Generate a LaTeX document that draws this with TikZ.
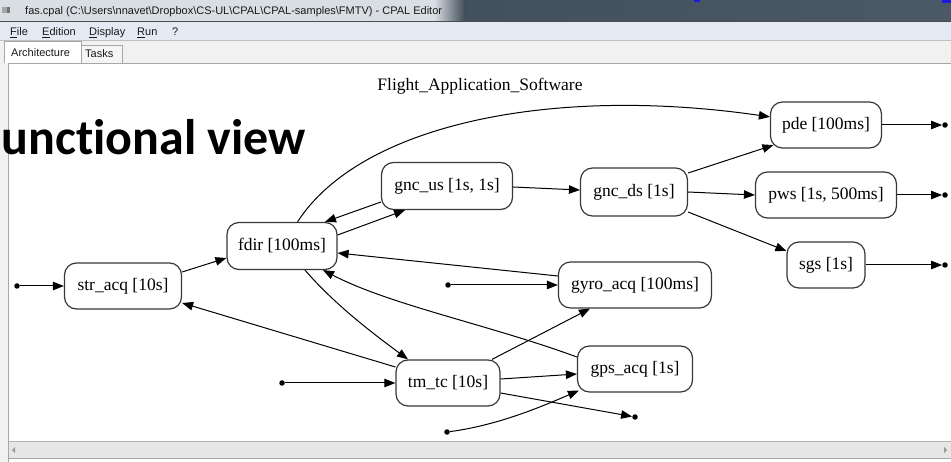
\documentclass[tikz,border=0pt]{standalone}
\usepackage{fontspec}
\setmainfont{Liberation Serif}
\newfontfamily\uifont{Liberation Sans}
\newfontfamily\slidefont[Ligatures={NoCommon}]{Carlito}
\usetikzlibrary{arrows.meta,calc}

\definecolor{barDark}{HTML}{3B4753}
\definecolor{barDarkR}{HTML}{4B5967}
\definecolor{barGlow}{HTML}{D9DEE3}
\definecolor{menuBg}{HTML}{E4EAF3}
\definecolor{stripBg}{HTML}{F1F1F1}
\definecolor{frameLine}{HTML}{A7A7A7}
\definecolor{scrollBg}{HTML}{E6E6E6}
\definecolor{slideBlue}{HTML}{1A1AE6}

\begin{document}
\begin{tikzpicture}[x=1pt,y=-1pt,
  task/.style={draw=black!78, line width=1.2pt, rounded corners=12pt, fill=white,
    minimum height=46pt, inner sep=0pt, font=\fontsize{17.5}{20}\selectfont},
  flow/.style={-{Triangle[length=11pt,width=8.5pt]}, line width=1pt},
  port/.style={circle, fill=black, inner sep=0pt, minimum size=5.5pt},
  ui/.style={font=\uifont\fontsize{11}{13}\selectfont, text=black!90, inner sep=0pt, anchor=base west},
]
\useasboundingbox (0,0) rectangle (951,462);
\fill[white] (0,0) rectangle (951,462);

% ---- window title bar ----
\shade[left color=barDark, right color=barDarkR] (0,0) rectangle (951,21);
\fill[barGlow] (0,0) rectangle (434,21);
\shade[left color=barGlow, right color=barDark] (434,0) rectangle (466,21);
\fill[slideBlue] (694,0) rectangle (700,2);
\fill[slideBlue] (942,0) rectangle (951,3);
\fill[black!35] (2,7) rectangle (7,13);
\fill[black!55] (7,7) rectangle (10,13);
\node[ui] (wintitle) at (25,15) {fas.cpal (C:\textbackslash Users\textbackslash nnavet\textbackslash Dropbox\textbackslash CS-UL\textbackslash CPAL\textbackslash CPAL-samples\textbackslash FMTV) - CPAL Editor};
\draw[black!70, line width=1pt] (0,21.5) -- (951,21.5);

% ---- menu bar ----
\fill[menuBg] (0,22) rectangle (951,40);
\draw[black!25] (0,40.5) -- (951,40.5);
\node[ui] (mFile) at (10,36) {\underline{F}ile};
\node[ui] (mEdit) at (42,36) {\underline{E}dition};
\node[ui] (mDisp) at (89,36) {\underline{D}isplay};
\node[ui] (mRun)  at (137,36) {\underline{R}un};
\node[ui] (mHelp) at (172,36) {?};

% ---- tab strip ----
\fill[stripBg] (0,41) rectangle (951,63);
\fill[white!96!black, draw=frameLine] (81,45) rectangle (122,63);
\fill[white, draw=frameLine] (4,41.5) rectangle (81,63);
\node[ui] (tabArch) at (11,57) {Architecture};
\node[ui] (tabTasks) at (85,58) {Tasks};

% ---- drawing panel and scroll bar ----
\fill[stripBg] (0,63) rectangle (8,462);
\fill[white] (8,63.5) rectangle (951,441);
\draw[frameLine] (8,462) -- (8,63.5) -- (951,63.5);
\fill[scrollBg] (8.5,442) rectangle (951,458);
\draw[black!30] (8.5,441.5) -- (951,441.5);
\draw[black!35] (8.5,458.5) -- (951,458.5);
\fill[black!40] (12,450) -- (15,447) -- (15,453) -- cycle;
\fill[black!40] (947,450) -- (944,447) -- (944,453) -- cycle;

% ---- slide heading ----
\node[font=\slidefont\bfseries\fontsize{50}{56}\selectfont, inner sep=0pt, anchor=base east] (heading) at (306,155) {unctional view};

% ---- graph ----
\node[font=\fontsize{17.5}{20}\selectfont, inner sep=0pt] (gtitle) at (480,86) {Flight\_Application\_Software};

\node[task, minimum width=117pt] (str)   at (123,286) {str\_acq [10s]};
\node[task, minimum width=110pt, minimum height=47pt] (fdir)  at (282,246) {fdir [100ms]};
\node[task, minimum width=131pt, minimum height=47pt] (gncus) at (447,186) {gnc\_us [1s, 1s]};
\node[task, minimum width=107pt, minimum height=48pt] (gncds) at (634,192) {gnc\_ds [1s]};
\node[task, minimum width=111pt] (pde)   at (826,125) {pde [100ms]};
\node[task, minimum width=141pt] (pws)   at (826,195) {pws [1s, 500ms]};
\node[task, minimum width=78pt]  (sgs)   at (826,265) {sgs [1s]};
\node[task, minimum width=153pt] (gyro)  at (635,285) {gyro\_acq [100ms]};
\node[task, minimum width=104pt] (tmtc)  at (448,383) {tm\_tc [10s]};
\node[task, minimum width=115pt] (gps)   at (635,369) {gps\_acq [1s]};

% free ends
\node[port] (strIn)  at (17,286) {};
\node[port] (gyroIn) at (448,285) {};
\node[port] (tmIn)   at (282,383) {};
\node[port] (gpsIn)  at (447,432) {};
\node[port] (tmOut)  at (635,417) {};
\node[port] (pdeOut) at (945,125) {};
\node[port] (pwsOut) at (945,195) {};
\node[port] (sgsOut) at (945,265) {};

% connectors
\draw[flow] (strIn) -- (str);
\draw[flow] ($(str.east)+(0,-14)$) -- ($(fdir.west)+(0,12)$);
\draw[flow] ($(fdir.east)+(0,-11)$) -- ($(gncus.south)+(-42,0)$);
\draw[flow] ($(gncus.west)+(0,16)$) -- ($(fdir.north)+(43,0)$);
\draw[flow] ($(gncus.east)+(0,1)$) -- ($(gncds.west)+(0,-2)$);
\draw[flow] ($(gncds.east)+(0,-19)$) -- ($(pde.south west)+(3.5,-3.5)$);
\draw[flow] (gncds.east) -- (pws.west);
\draw[flow] ($(gncds.east)+(0,20)$) -- ($(sgs.west)+(0,-14)$);
\draw[flow] (pde.east) -- (pdeOut);
\draw[flow] (pws.east) -- (pwsOut);
\draw[flow] (sgs.east) -- (sgsOut);
\draw[flow] (fdir) .. controls (360,125) and (550,85) .. (pde);
\draw[flow] ($(tmtc.west)+(0,-16)$) -- ($(str.east)+(0,17)$);
\draw[flow] ($(fdir.south)+(23,0)$) .. controls (335,305) and (375,335) .. ($(tmtc.north)+(-40,0)$);
\draw[flow] ($(gps.west)+(0,-12)$) .. controls (490,325) and (390,305) .. ($(fdir.south)+(41,0)$);
\draw[flow] ($(gyro.west)+(0,-9)$) -- ($(fdir.east)+(0,7)$);
\draw[flow] (gyroIn) -- (gyro.west);
\draw[flow] ($(tmtc.north)+(44,0)$) -- ($(gyro.south)+(-45,0)$);
\draw[flow] (tmIn) -- (tmtc.west);
\draw[flow] ($(tmtc.east)+(0,-4)$) -- ($(gps.west)+(0,5)$);
\draw[flow] ($(tmtc.east)+(0,10)$) -- (tmOut);
\draw[flow] (gpsIn) .. controls (500,425) and (545,405) .. ($(gps.south west)+(2,-2)$);
\end{tikzpicture}
\end{document}
